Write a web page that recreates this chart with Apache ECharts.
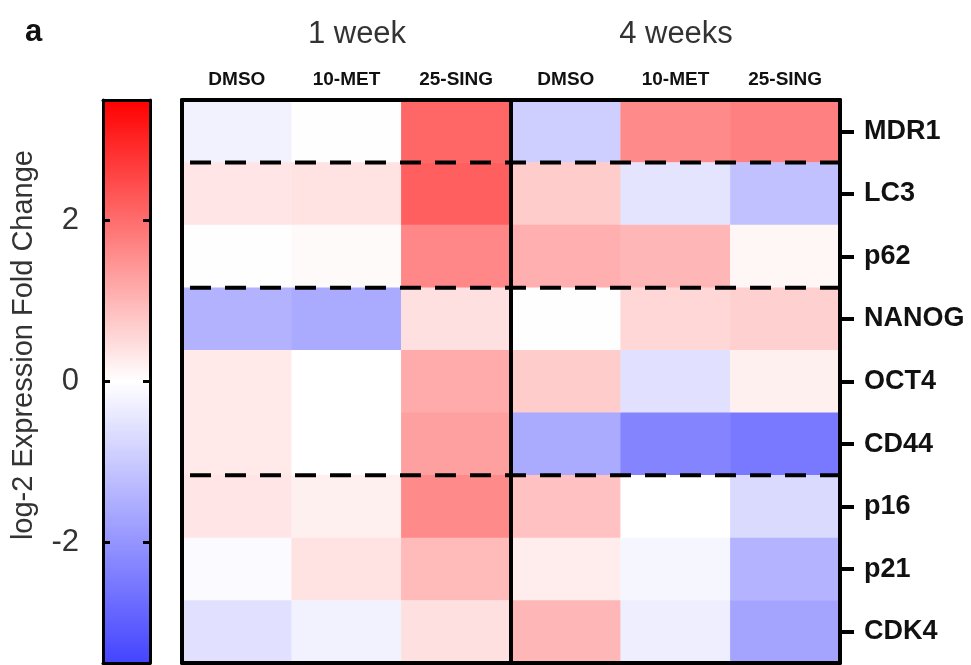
<!DOCTYPE html>
<html>
<head>
<meta charset="utf-8">
<script src="https://cdn.jsdelivr.net/npm/echarts@6/dist/echarts.min.js"></script>
<style>html,body{margin:0;padding:0;background:#fff}#c{width:971px;height:665px}</style>
</head>
<body>
<div id="c"></div>
<script>
// ---- data ----
const genes = ['MDR1', 'LC3', 'p62', 'NANOG', 'OCT4', 'CD44', 'p16', 'p21', 'CDK4'];
const columns = ['DMSO', '10-MET', '25-SING', 'DMSO', '10-MET', '25-SING'];
const periods = ['1 week', '4 weeks'];
const w1_DMSO = [-0.24, 0.35, 0.02, -1.45, 0.30, 0.30, 0.35, -0.07, -0.57];
const w1_MET  = [0.02, 0.38, 0.07, -1.60, 0.00, 0.00, 0.20, 0.38, -0.24];
const w1_SING = [2.10, 2.20, 1.65, 0.43, 1.15, 1.30, 1.60, 0.95, 0.43];
const w4_DMSO = [-0.90, 0.70, 1.10, 0.02, 0.70, -1.60, 0.85, 0.26, 1.00];
const w4_MET  = [1.60, -0.50, 1.00, 0.55, -0.57, -2.30, 0.00, -0.16, -0.31];
const w4_SING = [1.75, -1.16, 0.13, 0.65, 0.20, -2.50, -0.70, -1.42, -1.70];
const colorbarTicks = [-2, 0, 2];
const colorRange = [-3.5, 3.5];
const groupBreaks = [1, 3, 6];
const periodBreak = 3;

const cols = [w1_DMSO, w1_MET, w1_SING, w4_DMSO, w4_MET, w4_SING];
const heatData = [];
cols.forEach((arr, x) => arr.forEach((v, y) => heatData.push([x, y, v])));

const FONT = '"Liberation Sans", Arial, sans-serif';
const chart = echarts.init(document.getElementById('c'), null, {renderer: 'canvas'});

const lineSeries = groupBreaks.map(b => ({
  type: 'line', xAxisIndex: 2, yAxisIndex: 2, z: 6, symbol: 'none', silent: true,
  lineStyle: {color: '#000', width: 4, type: [21, 14], dashOffset: 27},
  data: [[0, b], [columns.length, b]]
}));
lineSeries.push({
  type: 'line', xAxisIndex: 2, yAxisIndex: 2, z: 6, symbol: 'none', silent: true,
  lineStyle: {color: '#000', width: 4, type: 'solid'},
  data: [[periodBreak, 0], [periodBreak, genes.length]]
});

const noZero = {onZero: false};
const option = {
  animation: false,
  backgroundColor: '#fff',
  textStyle: {fontFamily: FONT},
  title: [
    {text: 'a', left: 20, top: 12, textStyle: {fontSize: 31, fontWeight: 'bold', color: '#111', fontFamily: FONT}},
    {text: periods[0], left: 352, top: 14, textAlign: 'center', textStyle: {fontSize: 31, fontWeight: 'normal', color: '#333', fontFamily: FONT}},
    {text: periods[1], left: 671, top: 14, textAlign: 'center', textStyle: {fontSize: 31, fontWeight: 'normal', color: '#333', fontFamily: FONT}}
  ],
  grid: [
    {left: 182, top: 100, width: 658, height: 563, containLabel: false, outerBoundsMode: 'none'},
    {left: 103, top: 100, width: 47, height: 563, containLabel: false, outerBoundsMode: 'none'}
  ],
  xAxis: [
    {type: 'category', gridIndex: 0, data: columns, position: 'bottom', z: 5,
     axisLine: {onZero: false, lineStyle: {color: '#000', width: 4}}, axisTick: {show: false}, axisLabel: {show: false}, splitLine: {show: false}},
    {type: 'category', gridIndex: 0, data: columns, position: 'top', z: 5,
     axisLine: {onZero: false, lineStyle: {color: '#000', width: 4}}, axisTick: {show: false},
     axisLabel: {show: true, interval: 0, fontSize: 19, fontWeight: 'bold', color: '#111', margin: 11, fontFamily: FONT}},
    {type: 'value', gridIndex: 0, min: 0, max: columns.length, show: false, axisLine: noZero},
    {type: 'value', gridIndex: 1, position: 'top', min: 0, max: 1, z: 5,
     axisLine: {show: true, onZero: false, lineStyle: {color: '#000', width: 3}}, axisTick: {show: false}, axisLabel: {show: false}, splitLine: {show: false}},
    {type: 'value', gridIndex: 1, position: 'bottom', min: 0, max: 1, z: 5,
     axisLine: {show: true, onZero: false, lineStyle: {color: '#000', width: 3}}, axisTick: {show: false}, axisLabel: {show: false}, splitLine: {show: false}}
  ],
  yAxis: [
    {type: 'category', gridIndex: 0, data: genes, inverse: true, position: 'right', z: 5,
     axisLine: {onZero: false, lineStyle: {color: '#000', width: 4}},
     axisTick: {show: true, inside: false, length: 14, lineStyle: {color: '#000', width: 4}, alignWithLabel: true},
     axisLabel: {interval: 0, fontSize: 27, fontWeight: 'bold', color: '#111', margin: 24, fontFamily: FONT}},
    {type: 'category', gridIndex: 0, data: genes, inverse: true, position: 'left', z: 5,
     axisLine: {onZero: false, lineStyle: {color: '#000', width: 4}}, axisTick: {show: false}, axisLabel: {show: false}},
    {type: 'value', gridIndex: 0, min: 0, max: genes.length, inverse: true, show: false, axisLine: noZero},
    {type: 'value', gridIndex: 1, position: 'left', min: colorRange[0], max: colorRange[1], z: 5,
     axisLine: {show: true, onZero: false, lineStyle: {color: '#000', width: 3}},
     axisTick: {show: true, inside: true, length: 7, customValues: colorbarTicks, lineStyle: {color: '#000', width: 3}},
     axisLabel: {show: true, customValues: colorbarTicks, fontSize: 31, color: '#333', margin: 24, fontFamily: FONT},
     splitLine: {show: false}},
    {type: 'value', gridIndex: 1, position: 'right', min: colorRange[0], max: colorRange[1], z: 5,
     axisLine: {show: true, onZero: false, lineStyle: {color: '#000', width: 3}},
     axisTick: {show: true, inside: true, length: 7, customValues: colorbarTicks, lineStyle: {color: '#000', width: 3}},
     axisLabel: {show: false}, splitLine: {show: false}}
  ],
  visualMap: {
    type: 'continuous', seriesIndex: 0, min: colorRange[0], max: colorRange[1],
    calculable: false, hoverLink: false, left: 103, top: 100, padding: 0,
    itemWidth: 47, itemHeight: 563, text: null, showLabel: false,
    inRange: {color: ['#4444ff', '#ffffff', '#ff0000']}
  },
  graphic: [
    {type: 'text', left: 9, top: 150, rotation: Math.PI / 2,
     style: {text: 'log-2 Expression Fold Change', fill: '#333', font: '29px ' + FONT}}
  ],
  series: [
    {type: 'heatmap', xAxisIndex: 0, yAxisIndex: 0, data: heatData, z: 2,
     itemStyle: {borderWidth: 0}, emphasis: {disabled: true}}
  ].concat(lineSeries)
};
chart.setOption(option);
</script>
</body>
</html>
